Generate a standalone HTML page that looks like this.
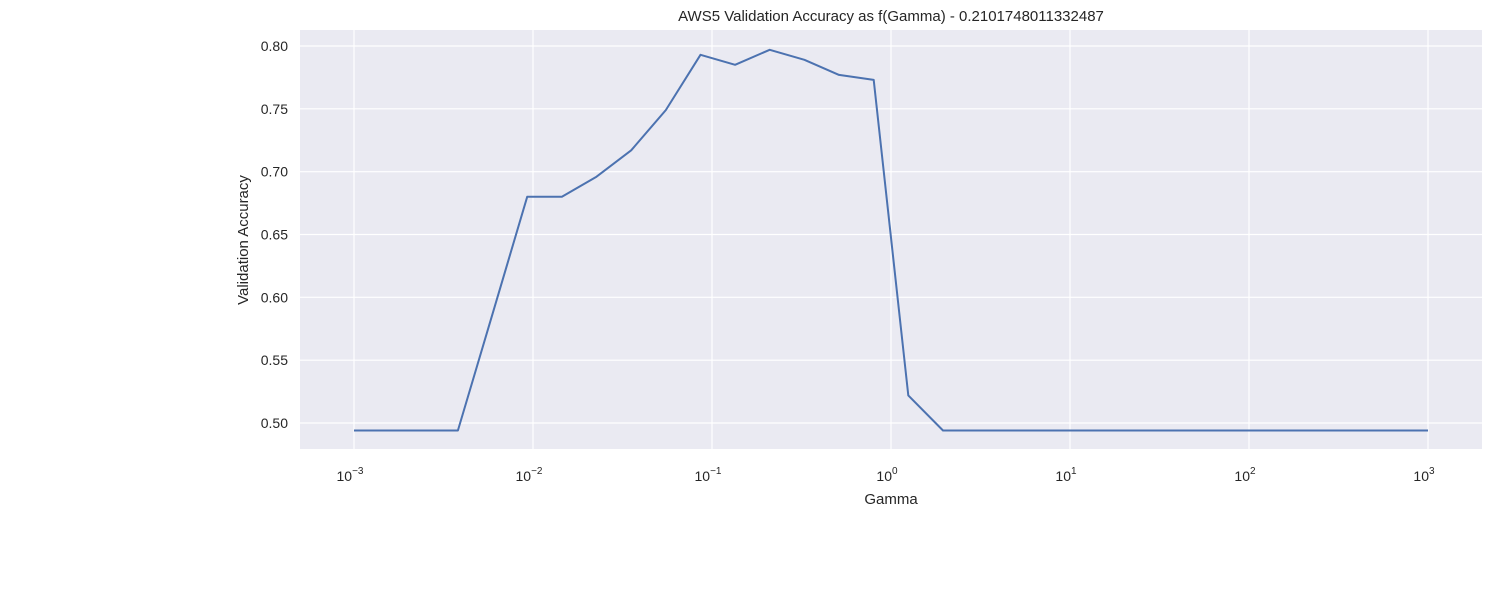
<!DOCTYPE html>
<html><head><meta charset="utf-8"><style>
body{margin:0;background:#fff;}
svg text{font-family:"Liberation Sans","DejaVu Sans",sans-serif;fill:#262626;}
</style></head><body>
<svg id="chart" width="1500" height="600">
<rect x="300" y="30" width="1182" height="419" fill="#eaeaf2"/>
<g id="grid"></g>
<g id="ticks"></g>
<path id="line" fill="none" stroke="#4c72b0" stroke-width="2" stroke-linejoin="round"/>
<text x="891" y="21" text-anchor="middle" font-size="15">AWS5 Validation Accuracy as f(Gamma) - 0.2101748011332487</text>
<text x="891" y="504" text-anchor="middle" font-size="15">Gamma</text>
<text transform="translate(248,240) rotate(-90)" text-anchor="middle" font-size="15">Validation Accuracy</text>
</svg>
<script>
const logGammaStart = -3, logGammaEnd = 3;
const accuracy = [0.494,0.494,0.494,0.494,0.587,0.680,0.680,0.696,0.717,0.749,0.793,0.785,0.797,0.789,0.777,0.773,0.522,0.494,0.494,0.494,0.494,0.494,0.494,0.494,0.494,0.494,0.494,0.494,0.494,0.494,0.494,0.494];
const yTicks = [0.50,0.55,0.60,0.65,0.70,0.75,0.80];
const xTickExps = [-3,-2,-1,0,1,2,3];
const NS="http://www.w3.org/2000/svg";
function xs(lg){return 354+(lg+3)*(1428-354)/6;}
function ys(v){return 423-(v-0.5)*(423-46)/0.3;}
const grid=document.getElementById('grid'), ticks=document.getElementById('ticks');
yTicks.forEach(v=>{
 const l=document.createElementNS(NS,'line');
 l.setAttribute('x1',300);l.setAttribute('x2',1482);l.setAttribute('y1',ys(v));l.setAttribute('y2',ys(v));
 l.setAttribute('stroke','#fff');l.setAttribute('stroke-width','1.2');
 
 
 grid.appendChild(l);
 const t=document.createElementNS(NS,'text');
 t.setAttribute('x',288);t.setAttribute('y',ys(v)+5);t.setAttribute('text-anchor','end');t.setAttribute('font-size','14');
 t.textContent=v.toFixed(2);
 
 
 ticks.appendChild(t);
});
xTickExps.forEach(e=>{
 const x=xs(e);
 const l=document.createElementNS(NS,'line');
 l.setAttribute('x1',x);l.setAttribute('x2',x);l.setAttribute('y1',30);l.setAttribute('y2',449);
 l.setAttribute('stroke','#fff');l.setAttribute('stroke-width','1.2');
 
 
 grid.appendChild(l);
 const t=document.createElementNS(NS,'text');
 t.setAttribute('x',x-4);t.setAttribute('y',481);t.setAttribute('text-anchor','middle');t.setAttribute('font-size','14');
 t.innerHTML='10<tspan dy="-7" font-size="10">'+(e<0?'\u2212'+(-e):e)+'</tspan>';
 
 
 ticks.appendChild(t);
});
const n=accuracy.length;
let d='';
accuracy.forEach((v,i)=>{
 const lg=logGammaStart+i*(logGammaEnd-logGammaStart)/(n-1);
 d+=(i?'L':'M')+xs(lg).toFixed(1)+','+ys(v).toFixed(1);
});
document.getElementById('line').setAttribute('d',d);
</script>
</body></html>
